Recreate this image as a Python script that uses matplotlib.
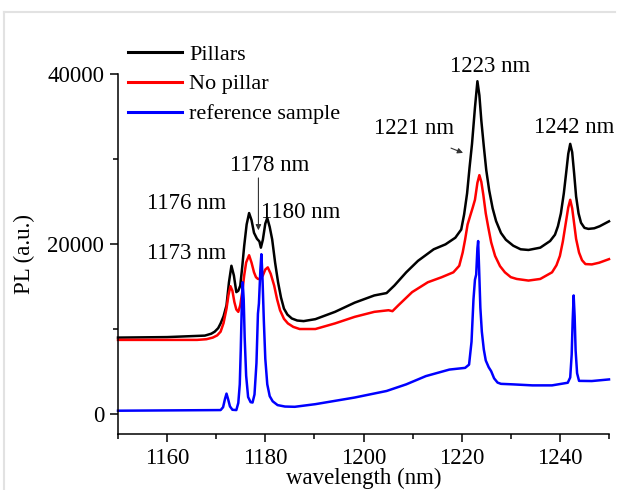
import matplotlib
matplotlib.use("Agg")
import matplotlib.pyplot as plt
from matplotlib.lines import Line2D

plt.rcParams['font.family'] = ['Liberation Serif', 'DejaVu Serif']

# ---- data ----
pillars_wl = [1150.0, 1160.0, 1167.7, 1169.0, 1169.7, 1170.4, 1170.9, 1171.5, 1172.1, 1172.6,
              1173.1, 1173.6, 1174.1, 1174.5, 1174.9, 1175.3, 1175.7, 1176.2, 1176.7, 1177.2,
              1177.7, 1178.3, 1178.8, 1179.1, 1179.5, 1180.0, 1180.4, 1180.9, 1181.4, 1182.0,
              1182.6, 1183.2, 1183.8, 1184.5, 1185.4, 1186.5, 1187.8, 1190.2, 1194.2, 1198.2,
              1202.2, 1204.7, 1206.3, 1208.7, 1211.1, 1214.3, 1216.7, 1218.7, 1219.9, 1220.5,
              1221.1, 1221.6, 1222.1, 1222.7, 1223.2, 1223.6, 1224.0, 1224.5, 1225.0, 1225.6,
              1226.3, 1227.0, 1228.0, 1229.0, 1230.5, 1232.0, 1233.6, 1236.0, 1238.0, 1239.0,
              1239.6, 1240.2, 1240.8, 1241.3, 1241.7, 1242.1, 1242.5, 1242.9, 1243.3, 1243.8,
              1244.3, 1245.0, 1245.8, 1247.0, 1248.1, 1250.0]
pillars_pl = [8990, 9050, 9225, 9450, 9690, 10100, 10660, 11500, 12790, 15500,
              17440, 16300, 14340, 14500, 15100, 17300, 19770, 22300, 23640, 22800,
              21320, 20620, 20300, 19570, 20500, 22400, 23060, 22000, 20540, 17800,
              15500, 13700, 12400, 11700, 11240, 11000, 10930, 11160, 12020, 13100,
              13950, 14230, 15120, 16670, 18020, 19380, 19960, 20740, 21700, 23500,
              25970, 29000, 31780, 36050, 39150, 37500, 34500, 31500, 28700, 26300,
              24200, 22700, 21300, 20500, 19800, 19380, 19300, 19570, 20350, 21100,
              22090, 23600, 25970, 28500, 30600, 31780, 30800, 28300, 25600, 23600,
              22500, 21900, 21780, 21850, 22090, 22670]

nopillar_wl = [1150.0, 1166.1, 1168.0, 1169.3, 1170.2, 1170.9, 1171.5, 1172.1, 1172.5, 1172.9,
               1173.3, 1173.7, 1174.1, 1174.5, 1174.9, 1175.3, 1175.7, 1176.1, 1176.7, 1177.2,
               1177.7, 1178.1, 1178.5, 1179.0, 1179.5, 1180.0, 1180.5, 1181.1, 1181.8, 1182.4,
               1183.0, 1183.8, 1184.6, 1185.7, 1187.0, 1190.2, 1194.2, 1198.2, 1202.2, 1205.1,
               1205.9, 1207.1, 1209.9, 1213.1, 1215.9, 1218.3, 1219.5, 1220.2, 1220.7, 1221.2,
               1221.7, 1222.2, 1222.7, 1223.2, 1223.6, 1224.0, 1224.4, 1224.9, 1225.4, 1226.0,
               1226.8, 1227.8, 1228.8, 1230.0, 1231.2, 1233.6, 1236.0, 1238.4, 1239.3, 1240.0,
               1240.6, 1241.2, 1241.7, 1242.1, 1242.5, 1242.8, 1243.3, 1243.9, 1244.5, 1245.2,
               1246.5, 1248.0, 1250.0]
nopillar_pl = [8720, 8720, 8800, 8990, 9250, 9690, 10700, 12400, 14000, 15040,
               14500, 13180, 12300, 12020, 12800, 14340, 16300, 17830, 18680, 17800,
               16670, 16100, 15890, 15900, 16300, 17000, 17250, 16500, 15120, 13500,
               12210, 11200, 10660, 10250, 10000, 10000, 10660, 11430, 12020, 12210,
               12100, 12790, 14340, 15500, 16090, 16670, 17440, 19000, 20540, 22300,
               23260, 24200, 25200, 27200, 28100, 27300, 25800, 23600, 22000, 20200,
               18600, 17400, 16670, 16100, 15890, 15700, 15890, 16670, 17500, 18600,
               20300, 22480, 24300, 25200, 24200, 22870, 20600, 18990, 18100, 17640,
               17600, 17800, 18220]

reference_wl = [1150.0, 1170.9, 1171.4, 1171.8, 1172.1, 1172.4, 1172.8, 1173.3, 1174.1, 1174.5,
                1174.8, 1175.0, 1175.2, 1175.4, 1175.6, 1175.8, 1176.1, 1176.5, 1177.0, 1177.4,
                1177.8, 1178.2, 1178.5, 1178.7, 1179.0, 1179.2, 1179.4, 1179.7, 1180.0, 1180.4,
                1180.9, 1181.5, 1182.5, 1184.0, 1186.0, 1190.2, 1198.2, 1204.7, 1208.7, 1212.7,
                1217.5, 1220.7, 1221.5, 1222.0, 1222.4, 1222.7, 1222.95, 1223.2, 1223.35, 1223.55,
                1223.8, 1224.1, 1224.5, 1224.9, 1225.5, 1226.0, 1226.6, 1227.3, 1228.0, 1230.4,
                1234.4, 1238.4, 1241.6, 1242.1, 1242.4, 1242.6, 1242.8, 1243.0, 1243.2, 1243.5,
                1243.9, 1246.5, 1250.0]
reference_pl = [390, 465, 800, 1800, 2400, 1800, 900, 500, 465, 1300,
                3500, 7500, 12500, 15500, 13500, 9000, 4500, 2000, 1400, 1350,
                2300, 6000, 11800, 13000, 17000, 18800, 16500, 11000, 6500, 3500,
                2100, 1500, 1050, 880, 850, 1160, 1940, 2710, 3490, 4460,
                5230, 5430, 5810, 8500, 13500, 15800, 16400, 19500, 20350, 17000,
                12500, 9690, 7600, 6300, 5500, 5040, 4200, 3700, 3550, 3490,
                3370, 3370, 3680, 4300, 7000, 11000, 13950, 11500, 7500, 4800,
                3900, 3880, 4070]

series_labels = ['Pillars', 'No pillar', 'reference sample']
series_colors = ['black', 'red', 'blue']

x_major = [1160, 1180, 1200, 1220, 1240]
x_minor = [1150, 1170, 1190, 1210, 1230, 1250]
y_major = [0, 20000, 40000]
y_minor = [10000, 30000]

peak_labels = ['1173 nm', '1176 nm', '1178 nm', '1180 nm', '1221 nm', '1223 nm', '1242 nm']
peak_text_x = [1163.9, 1163.9, 1180.8, 1187.3, 1210.2, 1225.7, 1242.9]
peak_text_y = [18940, 24820, 29180, 23760, 33530, 40900, 33760]

# ---- figure ----
fig = plt.figure(figsize=(6.18, 4.90), dpi=100)
ax = fig.add_axes([118/618, 1-434/490, (609-118)/618, (434-74)/490])

for wl, pl, lab, col in zip([pillars_wl, nopillar_wl, reference_wl],
                            [pillars_pl, nopillar_pl, reference_pl],
                            series_labels, series_colors):
    ax.plot(wl, pl, color=col, lw=1.8, label=lab, clip_on=False,
            solid_joinstyle='round')

ax.set_xlim(1150, 1250)
ax.set_ylim(-2350, 40000)
ax.set_xticks(x_major)
ax.set_xticks(x_minor, minor=True)
ax.set_yticks(y_major)
ax.set_yticks(y_minor, minor=True)
ax.set_xticklabels([str(v) for v in x_major])
ax.set_yticklabels([str(v) for v in y_major])

for s in ['top', 'right']:
    ax.spines[s].set_visible(False)
for s in ['left', 'bottom']:
    ax.spines[s].set_linewidth(1.1)

ax.tick_params(which='major', direction='out', length=6, width=1.1, labelsize=16.5, pad=4)
ax.tick_params(which='minor', direction='out', length=3.5, width=1.1)

ax.set_xlabel('wavelength (nm)', fontsize=16.5, labelpad=-1)
ax.set_ylabel('PL (a.u.)', fontsize=16.5, labelpad=9)

for lab, tx, ty in zip(peak_labels, peak_text_x, peak_text_y):
    ax.text(tx, ty, lab, fontsize=16.5, ha='center', va='center', clip_on=False)

# arrows
ax.annotate('', xy=(1178.6, 21290), xytext=(1178.6, 28100),
            arrowprops=dict(arrowstyle='-|>', lw=0.8, color='#333333', mutation_scale=8),
            annotation_clip=False)
ax.annotate('', xy=(1220.8, 30600), xytext=(1217.3, 31400),
            arrowprops=dict(arrowstyle='-|>', lw=0.8, color='#333333', mutation_scale=8),
            annotation_clip=False)

leg = ax.legend(loc='upper left', bbox_to_anchor=(128/618, 1-44/490),
                bbox_transform=fig.transFigure, frameon=False, fontsize=16,
                handlelength=2.45, handletextpad=0.3, labelspacing=0.42,
                borderaxespad=0, borderpad=0)
for h in leg.get_lines():
    h.set_linewidth(2.2)

# faint screenshot border
fig.add_artist(Line2D([4/618, 615/618], [1-12/490, 1-12/490], transform=fig.transFigure,
                      color='#e2e2e2', lw=1.5))
fig.add_artist(Line2D([4/618, 4/618], [0, 1-12/490], transform=fig.transFigure,
                      color='#e2e2e2', lw=1.5))

fig.savefig('out.png', dpi=100)
